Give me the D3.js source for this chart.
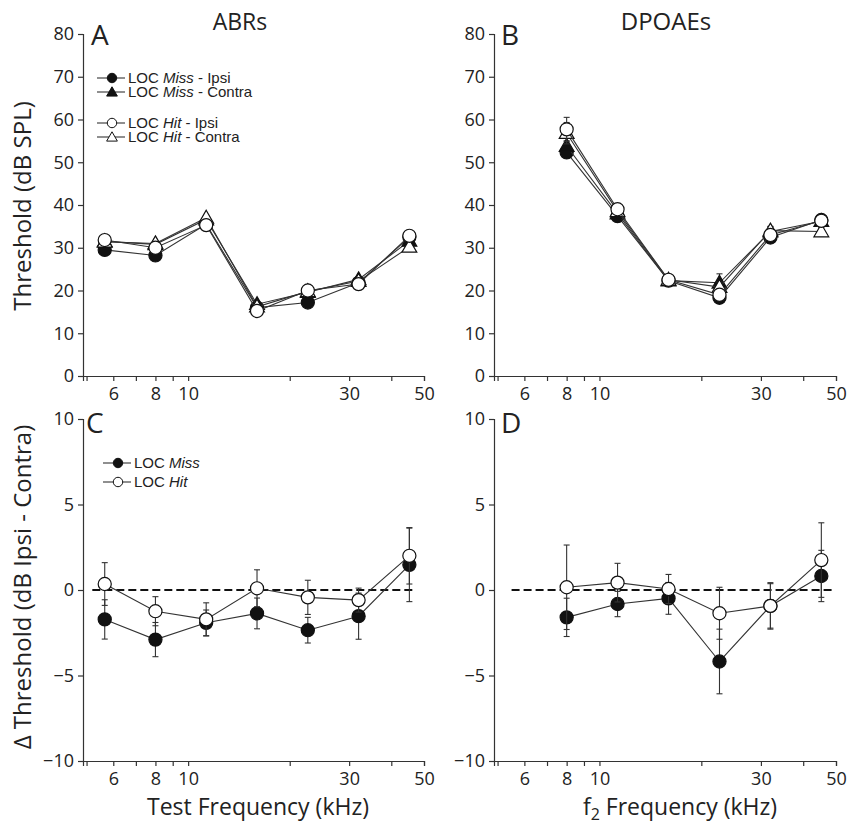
<!DOCTYPE html>
<html>
<head>
<meta charset="utf-8">
<script src="https://cdn.jsdelivr.net/npm/d3@7"></script>
<style>
  body { margin: 0; background: #fff; }
  svg { display: block; }
  .ax path, .ax line { stroke: #333; stroke-width: 1.2; }
  .ax text { font-family: "Open Sans", sans-serif; font-size: 18px; fill: #222; }
</style>
</head>
<body>
<div id="chart"></div>
<script>
// frequencies (kHz)
const freqABR = [5.66, 8, 11.31, 16, 22.63, 32, 45.25];
const freqDP = [8, 11.31, 16, 22.63, 32, 45.25];

// A: ABR thresholds (dB SPL)
const abrMissIpsi = [29.5, 28.2, 35.5, 16.0, 17.2, 21.8, 32.5];
const abrMissContra = [31.5, 30.8, 36.6, 16.8, 19.6, 22.6, 31.6];
const abrHitIpsi = [31.8, 30.0, 35.3, 15.2, 20.0, 21.5, 32.8];
const abrHitContra = [31.4, 31.0, 37.0, 16.2, 19.8, 22.2, 30.2];

// B: DPOAE thresholds (dB SPL) and SE
const dpMissIpsi = [52.3, 37.4, 22.3, 18.3, 32.4, 36.5];
const dpMissContra = [53.8, 38.0, 22.3, 21.8, 33.8, 36.2];
const dpHitIpsi = [57.7, 39.0, 22.5, 19.0, 33.0, 36.3];
const dpHitContra = [56.8, 38.5, 22.5, 20.8, 34.0, 33.8];
const dpMissIpsiErr = [1.2, 1.0, 0.5, 1.0, 1.0, 1.0];
const dpMissContraErr = [1.2, 1.0, 0.5, 2.1, 1.1, 1.0];
const dpHitIpsiErr = [2.8, 1.0, 0.6, 1.2, 1.2, 1.0];
const dpHitContraErr = [2.5, 1.0, 0.5, 1.2, 1.0, 1.0];

// C: ABR delta (ipsi - contra)
const dMissABR = [-1.72, -2.9, -1.92, -1.37, -2.35, -1.53, 1.47];
const dMissABRErr = [1.15, 1.0, 0.75, 0.9, 0.75, 1.35, 2.15];
const dHitABR = [0.35, -1.24, -1.72, 0.1, -0.43, -0.59, 2.0];
const dHitABRErr = [1.25, 0.85, 0.97, 1.08, 1.0, 0.7, 1.65];

// D: DPOAE delta
const dMissDP = [-1.6, -0.82, -0.49, -4.18, -0.93, 0.82];
const dMissDPErr = [1.12, 0.74, 0.93, 1.89, 1.3, 1.5];
const dHitDP = [0.16, 0.43, 0.06, -1.36, -0.93, 1.75];
const dHitDPErr = [2.47, 1.13, 0.85, 1.52, 1.36, 2.18];

const xTicks = [5, 6, 7, 8, 9, 10, 20, 30, 40, 50];
const xLabels = [6, 8, 10, 30, 50];
const yTicksTop = [0, 10, 20, 30, 40, 50, 60, 70, 80];
const yTicksBot = [-10, -5, 0, 5, 10];

const W = 847, H = 829;
const svg = d3.select("#chart").append("svg").attr("width", W).attr("height", H);
svg.append("rect").attr("width", W).attr("height", H).attr("fill", "#fff");

const font = '"Open Sans", sans-serif';
const legFont = '"Liberation Sans", Arial, sans-serif';

function makePanel(x0, x1, yDomain, y0, y1, yTicks) {
  const x = d3.scaleLog().domain([4.88, 50]).range([x0, x1]);
  const y = d3.scaleLinear().domain(yDomain).range([y0, y1]);
  svg.append("g").attr("class", "ax").attr("transform", "translate(0," + y0 + ")")
    .call(d3.axisBottom(x).tickValues(xTicks).tickSizeOuter(0).tickSize(5).tickPadding(6)
      .tickFormat(d => xLabels.includes(d) ? d : ""));
  svg.append("g").attr("class", "ax").attr("transform", "translate(" + x0 + ",0)")
    .call(d3.axisLeft(y).tickValues(yTicks).tickSizeOuter(0).tickSize(5).tickPadding(4));
  return { x, y };
}

const pA = makePanel(83, 424, [0, 80], 376, 34, yTicksTop);
const pB = makePanel(494, 836, [0, 80], 376, 34, yTicksTop);
const pC = makePanel(83, 424, [-10, 10], 761, 419, yTicksBot);
const pD = makePanel(494, 836, [-10, 10], 761, 419, yTicksBot);

function series(p, freqs, vals, errs, shape, filled) {
  const pts = freqs.map((f, i) => ({ f, v: vals[i], e: errs ? errs[i] : 0 }));
  const g = svg.append("g");
  g.append("path").datum(pts)
    .attr("d", d3.line().x(d => p.x(d.f)).y(d => p.y(d.v)))
    .attr("fill", "none").attr("stroke", "#333").attr("stroke-width", 1.1);
  if (errs) {
    const eb = g.selectAll(".eb").data(pts).join("g");
    eb.append("line").attr("x1", d => p.x(d.f)).attr("x2", d => p.x(d.f))
      .attr("y1", d => p.y(d.v - d.e)).attr("y2", d => p.y(d.v + d.e))
      .attr("stroke", "#333").attr("stroke-width", 1.1);
    [-1, 1].forEach(s => {
      eb.append("line").attr("x1", d => p.x(d.f) - 3).attr("x2", d => p.x(d.f) + 3)
        .attr("y1", d => p.y(d.v + s * d.e)).attr("y2", d => p.y(d.v + s * d.e))
        .attr("stroke", "#333").attr("stroke-width", 1.1);
    });
  }
  const sym = d3.symbol().type(shape === "tri" ? d3.symbolTriangle : d3.symbolCircle)
    .size(shape === "tri" ? 95 : 135);
  g.selectAll(".m").data(pts).join("path")
    .attr("transform", d => "translate(" + p.x(d.f) + "," + (p.y(d.v) + (shape === "tri" ? 1 : 0)) + ")")
    .attr("d", sym)
    .attr("fill", filled ? "#111" : "#fff").attr("stroke", "#111").attr("stroke-width", 1.2);
}

// A
series(pA, freqABR, abrMissIpsi, null, "circ", true);
series(pA, freqABR, abrMissContra, null, "tri", true);
series(pA, freqABR, abrHitContra, null, "tri", false);
series(pA, freqABR, abrHitIpsi, null, "circ", false);
// B
series(pB, freqDP, dpMissIpsi, dpMissIpsiErr, "circ", true);
series(pB, freqDP, dpMissContra, dpMissContraErr, "tri", true);
series(pB, freqDP, dpHitContra, dpHitContraErr, "tri", false);
series(pB, freqDP, dpHitIpsi, dpHitIpsiErr, "circ", false);

// zero lines
function zeroLine(p, f0, f1) {
  svg.append("line").attr("x1", p.x(f0)).attr("x2", p.x(f1))
    .attr("y1", p.y(0)).attr("y2", p.y(0))
    .attr("stroke", "#111").attr("stroke-width", 2).attr("stroke-dasharray", "8,4");
}
zeroLine(pC, 5.2, 46.5);
zeroLine(pD, 5.5, 49.5);

// C, D
series(pC, freqABR, dMissABR, dMissABRErr, "circ", true);
series(pC, freqABR, dHitABR, dHitABRErr, "circ", false);
series(pD, freqDP, dMissDP, dMissDPErr, "circ", true);
series(pD, freqDP, dHitDP, dHitDPErr, "circ", false);

// legends
function legendRow(x, y, shape, filled, group, side) {
  svg.append("line").attr("x1", x).attr("x2", x + 28).attr("y1", y).attr("y2", y)
    .attr("stroke", "#333").attr("stroke-width", 1.1);
  svg.append("path").attr("transform", "translate(" + (x + 15) + "," + (y + (shape === "tri" ? 1 : 0)) + ")")
    .attr("d", d3.symbol().type(shape === "tri" ? d3.symbolTriangle : d3.symbolCircle).size(shape === "tri" ? 50 : 70))
    .attr("fill", filled ? "#111" : "#fff").attr("stroke", "#111").attr("stroke-width", 1);
  const t = svg.append("text").attr("x", x + 31).attr("y", y + 5)
    .attr("font-family", legFont).attr("font-size", 15).attr("fill", "#222");
  t.append("tspan").text("LOC ");
  t.append("tspan").attr("font-style", "italic").text(group);
  if (side) t.append("tspan").text(" - " + side);
}
legendRow(97, 78, "circ", true, "Miss", "Ipsi");
legendRow(97, 92, "tri", true, "Miss", "Contra");
legendRow(97, 123, "circ", false, "Hit", "Ipsi");
legendRow(97, 137, "tri", false, "Hit", "Contra");
legendRow(103, 463, "circ", true, "Miss", null);
legendRow(103, 482, "circ", false, "Hit", null);

// labels
function label(x, y, txt, size, anchor, rot) {
  const t = svg.append("text").attr("font-family", font).attr("font-size", size)
    .attr("fill", "#222").attr("text-anchor", anchor || "start").text(txt);
  if (rot) t.attr("transform", "translate(" + x + "," + y + ") rotate(-90)");
  else t.attr("x", x).attr("y", y);
  return t;
}
label(240, 30, "ABRs", 23, "middle");
label(666, 30, "DPOAEs", 24, "middle");
label(91, 45, "A", 28);
label(501, 45, "B", 28);
label(86, 433, "C", 28);
label(501, 433, "D", 28);
label(31, 206, "Threshold (dB SPL)", 24, "middle", true);
label(31, 587, "\u0394 Threshold (dB Ipsi - Contra)", 24, "middle", true);
label(258, 815, "Test Frequency (kHz)", 23, "middle");
const f2 = svg.append("text").attr("font-family", font).attr("font-size", 23).attr("fill", "#222")
  .attr("x", 680).attr("y", 815).attr("text-anchor", "middle");
f2.append("tspan").text("f");
f2.append("tspan").attr("font-size", 16).attr("dy", 5).text("2");
f2.append("tspan").attr("dy", -5).text(" Frequency (kHz)");
</script>
</body>
</html>
